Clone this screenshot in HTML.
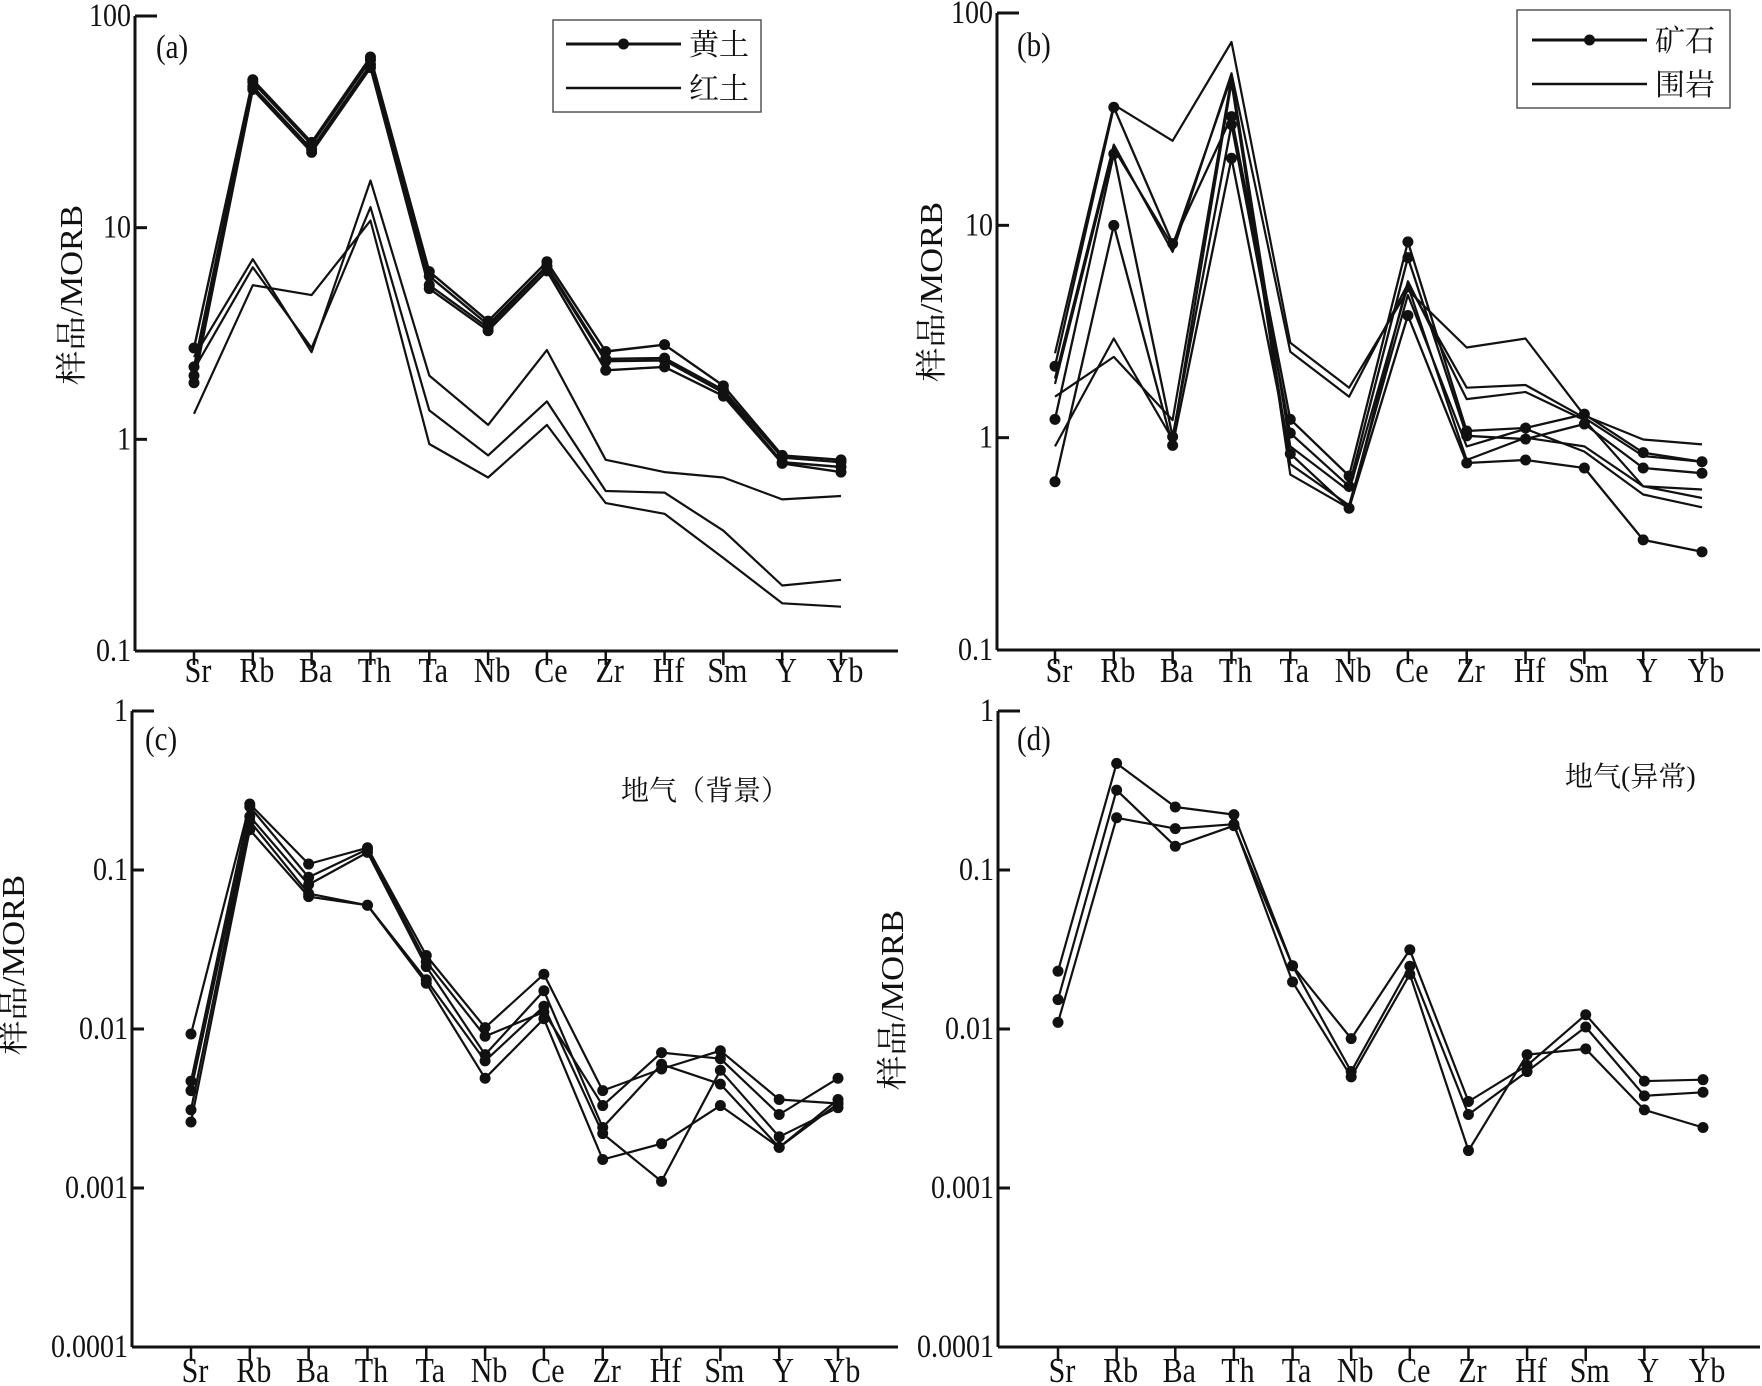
<!DOCTYPE html>
<html><head><meta charset="utf-8">
<style>
html,body{margin:0;padding:0;background:#fff;}
svg{display:block;}
text{font-family:"Liberation Serif","Noto Serif CJK SC",serif;fill:#111;}
.cjk{font-family:"Liberation Serif","Noto Serif CJK SC",serif;}
</style></head>
<body>
<svg id="chart" width="1762" height="1386" viewBox="0 0 1762 1386" xmlns="http://www.w3.org/2000/svg"></svg>
<script>
const categories = ["Sr","Rb","Ba","Th","Ta","Nb","Ce","Zr","Hf","Sm","Y","Yb"];
// Panel (a) loess (黄土)
const aLoess1 = [2.7,50,25.3,64,6.2,3.62,6.9,2.6,2.8,1.79,0.84,0.80];
const aLoess2 = [2.2,48.7,24.7,62,5.9,3.48,6.6,2.4,2.42,1.71,0.82,0.78];
const aLoess3 = [2.0,46.4,23.5,59,5.35,3.37,6.5,2.34,2.36,1.66,0.78,0.74];
const aLoess4 = [1.85,45,22.7,57,5.15,3.26,6.25,2.12,2.2,1.6,0.77,0.70];
// Panel (a) red soil (红土)
const aRed1 = [2.45,7.1,2.58,16.7,2.0,1.17,2.64,0.80,0.70,0.66,0.52,0.54];
const aRed2 = [2.14,6.5,2.7,12.5,1.37,0.84,1.51,0.57,0.56,0.37,0.204,0.217];
const aRed3 = [1.32,5.35,4.8,10.8,0.95,0.66,1.17,0.50,0.445,0.275,0.168,0.162];
// Panel (b) ore (矿石)
const bOre1 = [2.17,36,8.2,32.5,1.22,0.66,8.36,1.075,1.11,1.29,0.85,0.77];
const bOre2 = [1.22,21.7,1.01,29.8,1.05,0.59,7.05,1.02,0.985,1.16,0.72,0.68];
const bOre3 = [0.62,10,0.92,20.7,0.84,0.465,3.76,0.76,0.785,0.72,0.33,0.29];
// Panel (b) wall rock (围岩)
const bWall1 = [2.5,37,25,73,2.8,1.72,4.95,2.66,2.93,1.27,0.98,0.93];
const bWall2 = [1.9,24,7.5,52,2.54,1.56,5.3,1.72,1.77,1.24,0.82,0.77];
const bWall3 = [1.56,2.4,1.21,49.5,0.67,0.465,5.45,1.52,1.64,1.21,0.59,0.57];
const bWall4 = [0.91,2.93,0.98,47,0.75,0.48,4.7,0.91,1.1,0.86,0.54,0.47];
const bWall5 = [1.79,23,8.0,50,0.91,0.56,5.2,0.785,1.0,0.91,0.59,0.52];
// Panel (c) soil gas background
const cGas1 = [0.0093,0.26,0.109,0.138,0.029,0.0102,0.0221,0.0041,0.0056,0.0073,0.0036,0.0034];
const cGas2 = [0.0047,0.25,0.090,0.135,0.0265,0.0090,0.0128,0.0033,0.0071,0.0065,0.0029,0.0049];
const cGas3 = [0.0041,0.217,0.081,0.129,0.0247,0.0069,0.0174,0.0024,0.0060,0.0045,0.0018,0.0036];
const cGas4 = [0.0031,0.203,0.071,0.060,0.0204,0.0063,0.0139,0.0022,0.0011,0.0055,0.0021,0.0032];
const cGas5 = [0.0026,0.179,0.068,0.060,0.0194,0.0049,0.0116,0.00151,0.0019,0.0033,0.0018,0.0034];
// Panel (d) soil gas anomaly
const dGas1 = [0.0231,0.468,0.249,0.223,0.025,0.0087,0.0315,0.0035,0.0059,0.0123,0.0047,0.0048];
const dGas2 = [0.0153,0.318,0.141,0.19,0.025,0.0054,0.0248,0.0029,0.0054,0.0103,0.0038,0.0040];
const dGas3 = [0.0110,0.213,0.182,0.194,0.0198,0.0050,0.0221,0.00172,0.0069,0.0075,0.0031,0.0024];
const ticksAB = ["100","10","1","0.1"];
const ticksCD = ["1","0.1","0.01","0.001","0.0001"];

const NS = "http://www.w3.org/2000/svg";
const svg = document.getElementById("chart");
function mk(tag, attrs, parent){
  const e = document.createElementNS(NS, tag);
  for (const k in attrs) e.setAttribute(k, attrs[k]);
  (parent||svg).appendChild(e);
  return e;
}
function stretchedText(parent, x, y, size, anchor, str, cls){
  const t = mk("text", {x:0, y:0, "text-anchor":anchor, "font-size":size,
    transform:"translate(" + x + "," + y + ") scale(1,1.18)"}, parent);
  if (cls) t.setAttribute("class", cls);
  t.textContent = str;
  return t;
}

function panel(cfg){
  const g = mk("g", {});
  
  
  const lmax = Math.log10(cfg.vmax), lmin = Math.log10(cfg.vmin);
  const yScale = v => cfg.yTop + (lmax - Math.log10(v)) / (lmax - lmin) * (cfg.yBot - cfg.yTop);
  const xScale = i => cfg.x0 + i * (cfg.x1 - cfg.x0) / (categories.length - 1);
  const ya = mk("line", {x1:cfg.ax, y1:cfg.yTop, x2:cfg.ax, y2:cfg.yBot, stroke:"#111","stroke-width":3}, g);
  
  
  const xa = mk("line", {x1:cfg.ax, y1:cfg.yBot, x2:cfg.axEnd, y2:cfg.yBot, stroke:"#111","stroke-width":3}, g);
  
  
  cfg.ticks.forEach((t, i) => {
    const y = yScale(parseFloat(t));
    const tk = mk("line", {x1:cfg.ax, y1:y, x2:cfg.ax + (i === 0 ? 22 : 12), y2:y, stroke:"#111","stroke-width":3}, g);
    
    
    const tl = stretchedText(g, cfg.ax - 4, y + 10, 28, "end", t);
    
    
  });
  categories.forEach((c, i) => {
    const x = xScale(i);
    const tk = mk("line", {x1:x, y1:cfg.yBot, x2:x, y2:cfg.yBot + 14, stroke:"#111","stroke-width":2.5}, g);
    
    
    const tl = stretchedText(g, x + 4, cfg.catY, 30, "middle", c);
    
    
  });
  cfg.series.forEach(s => {
    const pts = s.data.map((v, i) => xScale(i).toFixed(1) + "," + yScale(v).toFixed(1)).join(" ");
    const pl = mk("polyline", {points:pts, fill:"none", stroke:"#111","stroke-width":s.w,"stroke-linejoin":"round"}, g);
    
    
    if (s.dots) {
      s.data.forEach((v, i) => {
        const c = mk("circle", {cx:xScale(i), cy:yScale(v), r:5.5, fill:"#111"}, g);
        
        
      });
    }
  });
  const yt = mk("text", {x:0, y:0, "text-anchor":"middle","font-size":30, class:"cjk",
    transform:"translate(" + cfg.titleX + "," + cfg.titleY + ") rotate(-90) scale(1.15,1.05)"}, g);
  yt.textContent = "样品/MORB";
  
  
  const pl = stretchedText(g, cfg.lblX, cfg.lblY, 29, "start", cfg.label);
  
  
  return {g, xScale, yScale};
}

panel({name:"panel-a", ax:135, axEnd:898, yTop:16, yBot:651, vmax:100, vmin:0.1, x0:194, x1:841,
  ticks:ticksAB, catY:682, titleX:82, titleY:295, lblX:156, lblY:58, label:"(a)",
  series:[
    {name:"loess-line-1", data:aLoess1, w:2.4, dots:true},
    {name:"loess-line-2", data:aLoess2, w:2.4, dots:true},
    {name:"loess-line-3", data:aLoess3, w:2.4, dots:true},
    {name:"loess-line-4", data:aLoess4, w:2.4, dots:true},
    {name:"red-soil-line-1", data:aRed1, w:2.2, dots:false},
    {name:"red-soil-line-2", data:aRed2, w:2.2, dots:false},
    {name:"red-soil-line-3", data:aRed3, w:2.2, dots:false}
  ]});
panel({name:"panel-b", ax:997, axEnd:1760, yTop:13, yBot:650, vmax:100, vmin:0.1, x0:1055, x1:1702,
  ticks:ticksAB, catY:682, titleX:942, titleY:292, lblX:1017, lblY:56, label:"(b)",
  series:[
    {name:"ore-line-1", data:bOre1, w:2.3, dots:true},
    {name:"ore-line-2", data:bOre2, w:2.3, dots:true},
    {name:"ore-line-3", data:bOre3, w:2.3, dots:true},
    {name:"wall-rock-line-1", data:bWall1, w:2.2, dots:false},
    {name:"wall-rock-line-2", data:bWall2, w:2.2, dots:false},
    {name:"wall-rock-line-3", data:bWall3, w:2.2, dots:false},
    {name:"wall-rock-line-4", data:bWall4, w:2.2, dots:false},
    {name:"wall-rock-line-5", data:bWall5, w:2.2, dots:false}
  ]});
panel({name:"panel-c", ax:132, axEnd:898, yTop:711, yBot:1347, vmax:1, vmin:0.0001, x0:191, x1:838,
  ticks:ticksCD, catY:1382, titleX:24, titleY:965, lblX:145, lblY:750, label:"(c)",
  series:[
    {name:"background-gas-line-1", data:cGas1, w:2.2, dots:true},
    {name:"background-gas-line-2", data:cGas2, w:2.2, dots:true},
    {name:"background-gas-line-3", data:cGas3, w:2.2, dots:true},
    {name:"background-gas-line-4", data:cGas4, w:2.2, dots:true},
    {name:"background-gas-line-5", data:cGas5, w:2.2, dots:true}
  ]});
panel({name:"panel-d", ax:998, axEnd:1760, yTop:711, yBot:1347, vmax:1, vmin:0.0001, x0:1058, x1:1703,
  ticks:ticksCD, catY:1382, titleX:903, titleY:1000, lblX:1017, lblY:750, label:"(d)",
  series:[
    {name:"anomaly-gas-line-1", data:dGas1, w:2.2, dots:true},
    {name:"anomaly-gas-line-2", data:dGas2, w:2.2, dots:true},
    {name:"anomaly-gas-line-3", data:dGas3, w:2.2, dots:true}
  ]});

function legend(name, bx, by, bw, bh, lx0, lx1, y1, y2, t1, t2){
  const g = mk("g", {});
  
  
  mk("rect", {x:bx, y:by, width:bw, height:bh, fill:"#fff", stroke:"#555","stroke-width":1.5}, g);
  mk("line", {x1:lx0, y1:y1, x2:lx1, y2:y1, stroke:"#111","stroke-width":3}, g);
  mk("circle", {cx:(lx0+lx1)/2, cy:y1, r:5.5, fill:"#111"}, g);
  mk("line", {x1:lx0, y1:y2, x2:lx1, y2:y2, stroke:"#111","stroke-width":2.5}, g);
  const a = mk("text", {x:lx1 + 8, y:y1 + 11, "font-size":30, class:"cjk"}, g);
  a.textContent = t1;
  
  
  const b = mk("text", {x:lx1 + 8, y:y2 + 11, "font-size":30, class:"cjk"}, g);
  b.textContent = t2;
  
  
}
legend("legend-a", 553, 20, 208, 92, 566, 681, 44, 88, "黄土", "红土");
legend("legend-b", 1517, 10, 213, 98, 1532, 1647, 40, 84, "矿石", "围岩");

const ac = mk("text", {x:621, y:800, "font-size":28, class:"cjk"});
ac.textContent = "地气（背景）";


const ad = mk("text", {x:1565, y:786, "font-size":28, class:"cjk"});
ad.textContent = "地气(异常)";


</script>
</body></html>
